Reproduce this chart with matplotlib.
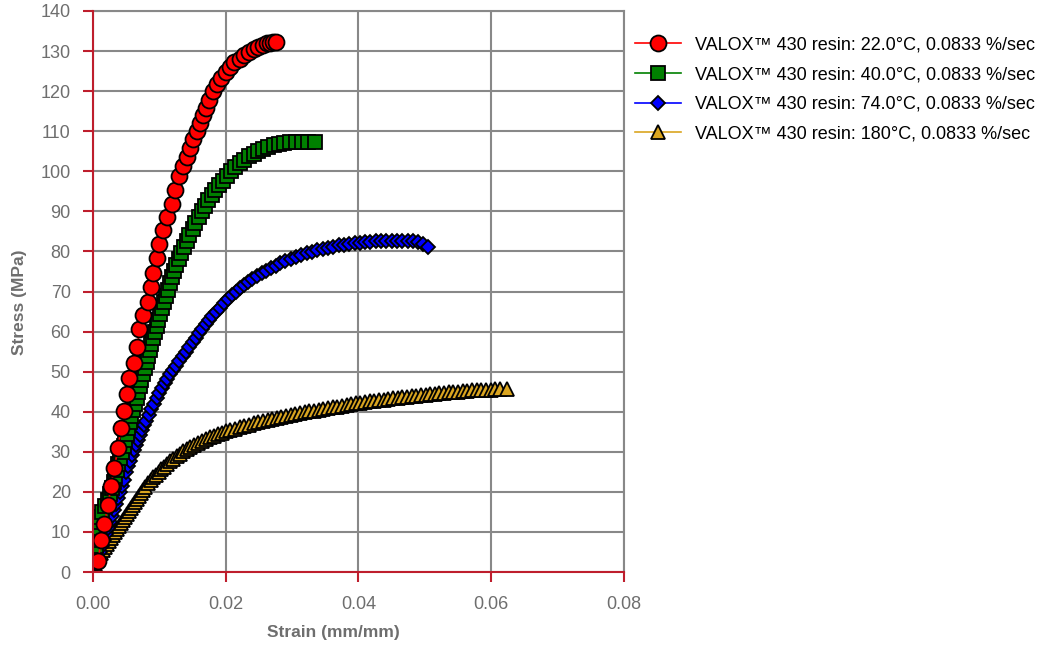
import matplotlib
matplotlib.use("Agg")
import matplotlib.pyplot as plt

plt.rcParams['font.family'] = ['Liberation Sans', 'DejaVu Sans']

# VALOX 430 resin, stress-strain at 0.0833 %/sec
strain_22 = [0.0008, 0.0012, 0.0017, 0.0023, 0.0027, 0.0032, 0.0038, 0.0042, 0.0047, 0.0052,
             0.0055, 0.0062, 0.0067, 0.0070, 0.0076, 0.0083, 0.0087, 0.0091, 0.0096, 0.0100,
             0.0106, 0.0112, 0.0119, 0.0124, 0.0130, 0.0136, 0.0141, 0.0146, 0.0151, 0.0156,
             0.0161, 0.0166, 0.0170, 0.0175, 0.0181, 0.0187, 0.0193, 0.0200, 0.0206, 0.0213,
             0.0221, 0.0228, 0.0235, 0.0242, 0.0249, 0.0256, 0.0262, 0.0267, 0.0271, 0.0275]
stress_22 = [2.8, 8.0, 11.9, 16.7, 21.5, 25.9, 31.0, 36.0, 40.3, 44.4,
             48.3, 52.2, 56.2, 60.6, 64.1, 67.5, 71.0, 74.6, 78.4, 81.8,
             85.3, 88.6, 91.8, 95.3, 98.7, 101.2, 103.6, 105.8, 108.0, 110.0,
             112.0, 114.0, 115.8, 117.8, 120.0, 121.8, 123.3, 124.8, 126.1, 127.2,
             128.0, 128.9, 129.8, 130.5, 131.1, 131.6, 131.9, 132.1, 132.2, 132.2]

strain_40 = [0.0002, 0.0003, 0.0004, 0.0005, 0.0006, 0.0007, 0.0008, 0.0010, 0.0014, 0.0018,
             0.0022, 0.0025, 0.0028, 0.0031, 0.0033, 0.0036, 0.0038, 0.0041, 0.0043, 0.0046,
             0.0048, 0.0051, 0.0053, 0.0056, 0.0058, 0.0061, 0.0063, 0.0066, 0.0068, 0.0071,
             0.0073, 0.0076, 0.0078, 0.0081, 0.0083, 0.0086, 0.0088, 0.0091, 0.0093, 0.0096,
             0.0098, 0.0101, 0.0104, 0.0107, 0.0110, 0.0113, 0.0116, 0.0119, 0.0122, 0.0125,
             0.0129, 0.0133, 0.0137, 0.0141, 0.0145, 0.0150, 0.0154, 0.0159, 0.0164, 0.0169,
             0.0174, 0.0179, 0.0184, 0.0190, 0.0196, 0.0202, 0.0208, 0.0214, 0.0221, 0.0228,
             0.0235, 0.0242, 0.0249, 0.0256, 0.0264, 0.0272, 0.0280, 0.0288, 0.0297, 0.0306,
             0.0315, 0.0324, 0.0334]
stress_40 = [3.5, 5.0, 6.5, 8.0, 9.5, 11.0, 12.5, 13.8, 15.0, 16.5,
             18.0, 19.5, 21.0, 22.5, 24.0, 25.5, 27.0, 28.5, 30.0, 31.5,
             33.0, 34.5, 36.0, 37.5, 39.0, 40.5, 42.0, 43.5, 45.0, 46.5,
             48.0, 49.5, 51.0, 52.5, 54.0, 55.5, 57.0, 58.5, 60.0, 61.5,
             63.0, 64.5, 66.0, 67.5, 69.0, 70.5, 72.0, 73.5, 75.0, 76.5,
             78.0, 79.5, 81.0, 82.5, 84.0, 85.5, 87.0, 88.5, 90.0, 91.4,
             92.8, 94.1, 95.3, 96.5, 97.7, 98.9, 100.0, 101.0, 102.0, 102.9,
             103.7, 104.4, 105.0, 105.6, 106.1, 106.5, 106.9, 107.1, 107.3, 107.4,
             107.4, 107.4, 107.4]

strain_74 = [0.0005, 0.0008, 0.0011, 0.0014, 0.0017, 0.0020, 0.0023, 0.0026, 0.0029, 0.0032,
             0.0035, 0.0038, 0.0041, 0.0044, 0.0047, 0.0050, 0.0053, 0.0056, 0.0059, 0.0062,
             0.0065, 0.0068, 0.0071, 0.0074, 0.0077, 0.0080, 0.0084, 0.0088, 0.0092, 0.0096,
             0.0100, 0.0104, 0.0108, 0.0112, 0.0116, 0.0120, 0.0125, 0.0130, 0.0135, 0.0140,
             0.0145, 0.0150, 0.0155, 0.0160, 0.0165, 0.0170, 0.0175, 0.0180, 0.0186, 0.0192,
             0.0198, 0.0204, 0.0210, 0.0216, 0.0222, 0.0228, 0.0234, 0.0240, 0.0247, 0.0254,
             0.0261, 0.0268, 0.0275, 0.0282, 0.0290, 0.0298, 0.0306, 0.0314, 0.0322, 0.0330,
             0.0338, 0.0346, 0.0354, 0.0362, 0.0370, 0.0378, 0.0386, 0.0394, 0.0402, 0.0410,
             0.0418, 0.0426, 0.0434, 0.0442, 0.0450, 0.0458, 0.0466, 0.0474, 0.0482, 0.0490,
             0.0497, 0.0505]
stress_74 = [2.0, 3.5, 5.0, 6.5, 8.0, 9.5, 11.0, 12.5, 14.0, 15.5,
             17.0, 18.5, 20.0, 21.5, 23.0, 25.0, 26.4, 27.8, 29.1, 30.4,
             31.7, 33.0, 34.2, 35.4, 36.6, 37.8, 39.2, 40.6, 42.0, 43.3,
             44.6, 45.9, 47.1, 48.2, 49.3, 50.3, 51.5, 52.6, 53.8, 54.9,
             56.1, 57.3, 58.5, 59.6, 60.7, 61.8, 62.8, 63.8, 64.9, 66.0,
             67.1, 68.1, 69.1, 70.0, 70.8, 71.6, 72.3, 73.0, 73.8, 74.5,
             75.2, 75.8, 76.4, 77.0, 77.6, 78.1, 78.6, 79.1, 79.5, 79.9,
             80.3, 80.6, 80.9, 81.2, 81.5, 81.7, 81.9, 82.1, 82.2, 82.3,
             82.4, 82.5, 82.5, 82.6, 82.6, 82.7, 82.7, 82.7, 82.7, 82.4,
             81.9, 81.2]

strain_180 = [0.0003, 0.0006, 0.0009, 0.0012, 0.0015, 0.0018, 0.0021, 0.0024, 0.0027, 0.0030,
              0.0033, 0.0036, 0.0039, 0.0042, 0.0045, 0.0048, 0.0051, 0.0054, 0.0057, 0.0060,
              0.0063, 0.0066, 0.0069, 0.0072, 0.0075, 0.0079, 0.0083, 0.0087, 0.0091, 0.0095,
              0.0099, 0.0103, 0.0107, 0.0111, 0.0116, 0.0121, 0.0126, 0.0131, 0.0136, 0.0141,
              0.0146, 0.0152, 0.0158, 0.0164, 0.0170, 0.0176, 0.0182, 0.0188, 0.0194, 0.0200,
              0.0207, 0.0214, 0.0221, 0.0228, 0.0235, 0.0242, 0.0249, 0.0256, 0.0263, 0.0270,
              0.0277, 0.0284, 0.0291, 0.0298, 0.0305, 0.0312, 0.0319, 0.0326, 0.0333, 0.0340,
              0.0347, 0.0354, 0.0361, 0.0368, 0.0375, 0.0382, 0.0389, 0.0396, 0.0403, 0.0410,
              0.0417, 0.0424, 0.0431, 0.0438, 0.0445, 0.0452, 0.0459, 0.0466, 0.0473, 0.0480,
              0.0487, 0.0494, 0.0501, 0.0508, 0.0515, 0.0522, 0.0529, 0.0536, 0.0543, 0.0550,
              0.0557, 0.0564, 0.0571, 0.0578, 0.0585, 0.0592, 0.0599, 0.0606, 0.0613, 0.0623]
stress_180 = [2.0, 3.0, 4.0, 4.8, 5.5, 6.3, 7.0, 7.8, 8.5, 9.3,
              10.0, 10.8, 11.5, 12.3, 13.0, 13.8, 14.5, 15.3, 16.0, 16.8,
              17.5, 18.3, 19.0, 19.8, 20.5, 21.3, 22.1, 22.9, 23.6, 24.3,
              25.0, 25.7, 26.3, 26.9, 27.6, 28.3, 28.9, 29.5, 30.1, 30.6,
              31.1, 31.7, 32.2, 32.7, 33.1, 33.6, 34.0, 34.4, 34.7, 35.1,
              35.5, 35.8, 36.2, 36.5, 36.8, 37.1, 37.4, 37.7, 38.0, 38.2,
              38.5, 38.7, 39.0, 39.2, 39.4, 39.7, 39.9, 40.1, 40.3, 40.5,
              40.7, 40.9, 41.1, 41.3, 41.5, 41.7, 41.9, 42.1, 42.2, 42.4,
              42.6, 42.7, 42.9, 43.0, 43.2, 43.3, 43.5, 43.6, 43.7, 43.9,
              44.0, 44.1, 44.2, 44.4, 44.5, 44.6, 44.7, 44.8, 44.9, 45.0,
              45.1, 45.2, 45.3, 45.3, 45.4, 45.5, 45.5, 45.6, 45.6, 45.6]

labels = ["VALOX\u2122 430 resin: 22.0\u00b0C, 0.0833 %/sec",
          "VALOX\u2122 430 resin: 40.0\u00b0C, 0.0833 %/sec",
          "VALOX\u2122 430 resin: 74.0\u00b0C, 0.0833 %/sec",
          "VALOX\u2122 430 resin: 180\u00b0C, 0.0833 %/sec"]

axis_red = '#BE1E2D'
grid_gray = '#888888'
text_gray = '#6E6E6E'

fig = plt.figure(figsize=(10.4, 6.47), dpi=100)
ax = fig.add_axes([0.0894, 0.1159, 0.5106, 0.8671])

ax.plot(strain_22, stress_22, color='red', marker='o', markersize=11.5,
        markerfacecolor='red', markeredgecolor='black', markeredgewidth=1.3, lw=1.2,
        label=labels[0], zorder=6)
ax.plot(strain_40, stress_40, color='green', marker='s', markersize=9.5,
        markerfacecolor='green', markeredgecolor='black', markeredgewidth=1.3, lw=1.2,
        label=labels[1], zorder=5)
ax.plot(strain_74, stress_74, color='blue', marker='D', markersize=7.5,
        markerfacecolor='blue', markeredgecolor='black', markeredgewidth=1.3, lw=1.2,
        label=labels[2], zorder=4)
ax.plot(strain_180, stress_180, color='#DAA520', marker='^', markersize=10,
        markerfacecolor='#DAA520', markeredgecolor='black', markeredgewidth=1.3, lw=1.2,
        label=labels[3], zorder=3)

ax.set_xlim(0, 0.08)
ax.set_ylim(0, 140)
ax.set_xticks([0.0, 0.02, 0.04, 0.06, 0.08])
ax.set_xticklabels(['0.00', '0.02', '0.04', '0.06', '0.08'])
ax.set_yticks(range(0, 141, 10))

ax.grid(True, color=grid_gray, lw=1.5, zorder=0)
ax.set_axisbelow(True)
for side in ['top', 'right']:
    ax.spines[side].set_color(grid_gray)
    ax.spines[side].set_linewidth(1.5)
for side in ['left', 'bottom']:
    ax.spines[side].set_color(axis_red)
    ax.spines[side].set_linewidth(1.5)
    ax.spines[side].set_zorder(7)

ax.tick_params(axis='both', colors=axis_red, length=7, width=1.5, direction='out',
               labelcolor=text_gray, labelsize=13)
ax.tick_params(axis='y', pad=9)
ax.tick_params(axis='x', pad=10)

ax.set_xlabel('Strain (mm/mm)', fontsize=12.5, fontweight='bold', color=text_gray)
ax.set_ylabel('Stress (MPa)', fontsize=12.5, fontweight='bold', color=text_gray)
ax.xaxis.set_label_coords(0.452, -0.0945)
ax.yaxis.set_label_coords(-0.124, 0.481)

fig.legend(loc='upper left', bbox_to_anchor=(0.604, 0.955), frameon=False,
           fontsize=13, numpoints=1, handlelength=2.5, handletextpad=0.8,
           labelspacing=0.71, borderaxespad=0)

fig.savefig('out.png', dpi=100)
